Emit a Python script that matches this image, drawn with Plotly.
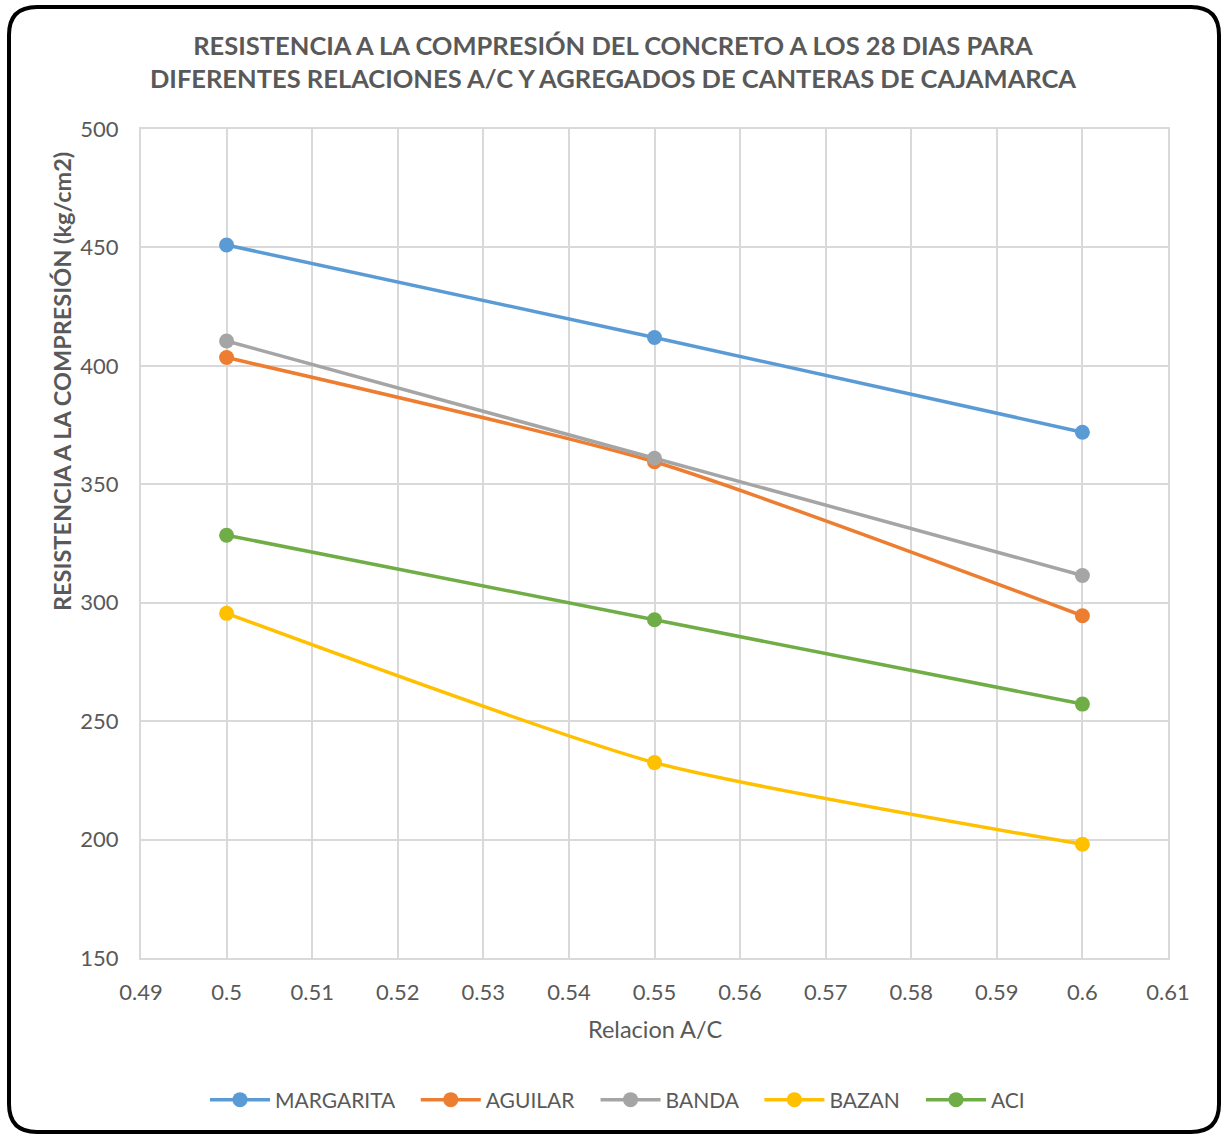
import plotly.graph_objects as go

# Water/cement ratios tested
relacion_ac = [0.50, 0.55, 0.60]

# 28-day compressive strength (kg/cm2) for each quarry and the ACI reference
margarita = [451.0, 412.0, 372.0]
aguilar = [403.5, 359.5, 294.5]
banda = [410.5, 361.0, 311.5]
bazan = [295.5, 232.5, 198.0]
aci = [328.5, 292.8, 257.2]

series_names = ["MARGARITA", "AGUILAR", "BANDA", "BAZAN", "ACI"]
series_values = [margarita, aguilar, banda, bazan, aci]
series_colors = ["#5B9BD5", "#ED7D31", "#A5A5A5", "#FFC000", "#70AD47"]

W, H = 1222, 1135
L, R, T, B = 141, 54, 129, 177
PW, PH = W - L - R, H - T - B

FONT = "Lato"
GRAY = "#595959"
PAD = "\u00a0" * 3  # spacing between legend entries

fig = go.Figure()
for i, (name, vals, col) in enumerate(zip(series_names, series_values, series_colors)):
    label = name if i == len(series_names) - 1 else name + PAD
    fig.add_trace(go.Scatter(
        x=relacion_ac, y=vals, name=label,
        mode="lines+markers",
        line=dict(color=col, width=3.5, shape="spline", smoothing=0.6),
        marker=dict(color=col, size=15),
    ))


def px_x(p):
    return (p - L) / PW


def px_y(p):
    return (T + PH - p) / PH


# rounded outer frame of the chart
x0, x1, y0, y1, r = 9, 1219, 7, 1132, 28
path = (
    f"M {px_x(x0 + r)},{px_y(y0)} L {px_x(x1 - r)},{px_y(y0)} "
    f"Q {px_x(x1)},{px_y(y0)} {px_x(x1)},{px_y(y0 + r)} "
    f"L {px_x(x1)},{px_y(y1 - r)} "
    f"Q {px_x(x1)},{px_y(y1)} {px_x(x1 - r)},{px_y(y1)} "
    f"L {px_x(x0 + r)},{px_y(y1)} "
    f"Q {px_x(x0)},{px_y(y1)} {px_x(x0)},{px_y(y1 - r)} "
    f"L {px_x(x0)},{px_y(y0 + r)} "
    f"Q {px_x(x0)},{px_y(y0)} {px_x(x0 + r)},{px_y(y0)} Z"
)
fig.add_shape(type="path", xref="paper", yref="paper", path=path,
              line=dict(color="black", width=4), layer="above")

# axis titles
fig.add_annotation(
    text="RESISTENCIA A LA COMPRESIÓN (kg/cm2)", textangle=-90,
    xref="paper", yref="paper", x=px_x(62), y=px_y(382),
    xanchor="center", yanchor="middle", showarrow=False,
    font=dict(family=FONT, size=23.5, color=GRAY, weight="bold"),
)
fig.add_annotation(
    text="Relacion A/C",
    xref="paper", yref="paper", x=px_x(655), y=px_y(1029),
    xanchor="center", yanchor="middle", showarrow=False,
    font=dict(family=FONT, size=23.5, color=GRAY),
)

fig.update_layout(
    width=W, height=H,
    margin=dict(l=L, r=R, t=T, b=B),
    paper_bgcolor="white", plot_bgcolor="white",
    font=dict(family=FONT, color=GRAY, size=18),
    title=dict(
        text="RESISTENCIA A LA COMPRESIÓN DEL CONCRETO A LOS 28 DIAS PARA<br>"
             "DIFERENTES RELACIONES A/C Y AGREGADOS DE CANTERAS DE CAJAMARCA",
        x=613 / W, xanchor="center", y=1 - 55 / H, yanchor="middle",
        font=dict(family=FONT, size=25.5, color=GRAY, weight="bold"),
    ),
    xaxis=dict(
        range=[0.49, 0.61], dtick=0.01, tick0=0.49,
        showgrid=True, gridcolor="#D9D9D9", gridwidth=2,
        showline=True, linecolor="#D9D9D9", linewidth=2, mirror=True,
        zeroline=False, ticks="", ticklabelstandoff=14,
        tickfont=dict(size=22, color=GRAY, family=FONT),
    ),
    yaxis=dict(
        range=[150, 500], dtick=50,
        showgrid=True, gridcolor="#D9D9D9", gridwidth=2,
        showline=True, linecolor="#D9D9D9", linewidth=2, mirror=True,
        zeroline=False, ticks="", ticklabelstandoff=16,
        tickfont=dict(size=22, color=GRAY, family=FONT),
    ),
    legend=dict(
        orientation="h", x=px_x(617.5), xanchor="center",
        y=px_y(1100), yanchor="middle",
        font=dict(size=21, color=GRAY, family=FONT),
        itemwidth=60, tracegroupgap=0,
    ),
    showlegend=True,
)

fig.write_html("out.html")
